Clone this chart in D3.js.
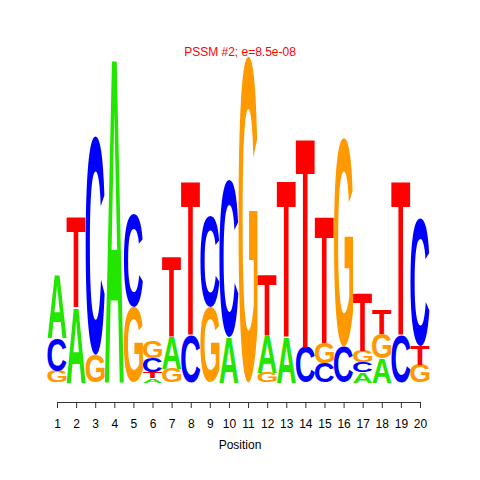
<!DOCTYPE html>
<html>
<head>
<meta charset="utf-8">
<script src="https://cdn.jsdelivr.net/npm/d3@7"></script>
<style>
  body { margin: 0; background: #fff; }
  svg { display: block; }
</style>
</head>
<body>
<div id="logo"></div>
<script>
// information content (bits) per position
var positions = d3.range(1, 21)
var bitsA = [0.39, 0.46, 0,    2.0, 0,    0.025, 0.20, 0,    0,    0.28, 0,   0.23,  0.28, 0,     0,     0,    0.062, 0.148, 0,    0]
var bitsC = [0.20, 0,    1.34, 0,   0.57, 0.085, 0,    0.29, 0.56, 0.96, 0,   0,     0,    0.215, 0.12,  0.22, 0.064, 0,     0.29, 0.78]
var bitsG = [0.07, 0,    0.17, 0,   0.46, 0.105, 0.085, 0,   0.46, 0,    2.0, 0.06,  0,    0,     0.125, 1.28, 0.068, 0.15,  0,    0.11]
var bitsT = [0,    0.56, 0,    0,   0,    0.04,  0.49, 0.95, 0,    0,    0,   0.375, 0.96, 1.29,  0.78,  0,    0.36,  0.152, 0.95, 0.115]
var title = "PSSM #2; e=8.5e-08"

var colors = { A: "#22e600", C: "#0000ff", G: "#ff9900", T: "#ff0000" }
var font = "bold 100px 'Liberation Sans', Arial, sans-serif"

var svg = d3.select("#logo").append("svg")
    .attr("width", 480)
    .attr("height", 480)

var x = d3.scaleLinear().domain([1, 20]).range([57, 420])
var y = d3.scaleLinear().domain([0, 2]).range([382.5, 56])

// ink box of each glyph, so letters can be stretched to fill their slot
var ctx = document.createElement("canvas").getContext("2d")
ctx.font = font
var ink = {}
"ACGT".split("").forEach(function(b) {
  var m = ctx.measureText(b)
  ink[b] = { l: m.actualBoundingBoxLeft, r: m.actualBoundingBoxRight,
             a: m.actualBoundingBoxAscent, d: m.actualBoundingBoxDescent }
})

var columns = positions.map(function(p, i) {
  var stack = [
    { base: "A", bits: bitsA[i] },
    { base: "C", bits: bitsC[i] },
    { base: "G", bits: bitsG[i] },
    { base: "T", bits: bitsT[i] }
  ].filter(function(d) { return d.bits > 0 })
   .sort(function(a, b) { return a.bits - b.bits })
  var acc = 0
  stack.forEach(function(d) { d.y0 = acc; acc += d.bits; d.y1 = acc; d.pos = p })
  return stack
})

var g = svg.append("g").attr("class", "letters")
columns.forEach(function(stack) {
  g.selectAll(null)
    .data(stack)
    .enter().append("text")
      .text(function(d) { return d.base })
      .style("font", font)
      .attr("fill", function(d) { return colors[d.base] })
      .attr("transform", function(d) {
        var k = ink[d.base]
        var bx = x(d.pos - 0.5), bw = x(d.pos + 0.5) - bx
        var by = y(d.y1), bh = y(d.y0) - by
        return "translate(" + bx + "," + by + ") scale(" + bw / (k.l + k.r) + "," + bh / (k.a + k.d) + ") translate(" + k.l + "," + k.a + ")"
      })
})

var axis = svg.append("g")
    .attr("transform", "translate(0,402)")
    .call(d3.axisBottom(x).tickValues(positions).tickSize(6).tickSizeOuter(0).tickPadding(11))
axis.selectAll("path, line").attr("stroke", "#333")
axis.selectAll("text")
    .style("font", "12px 'Liberation Sans', Arial, sans-serif")
    .attr("fill", "#000")

svg.append("text")
    .attr("x", 240)
    .attr("y", 449)
    .attr("text-anchor", "middle")
    .style("font", "12px 'Liberation Sans', Arial, sans-serif")
    .text("Position")

svg.append("text")
    .attr("x", 240)
    .attr("y", 56)
    .attr("text-anchor", "middle")
    .attr("fill", "#ff0000")
    .style("font", "12px 'Liberation Sans', Arial, sans-serif")
    .text(title)
</script>
</body>
</html>
